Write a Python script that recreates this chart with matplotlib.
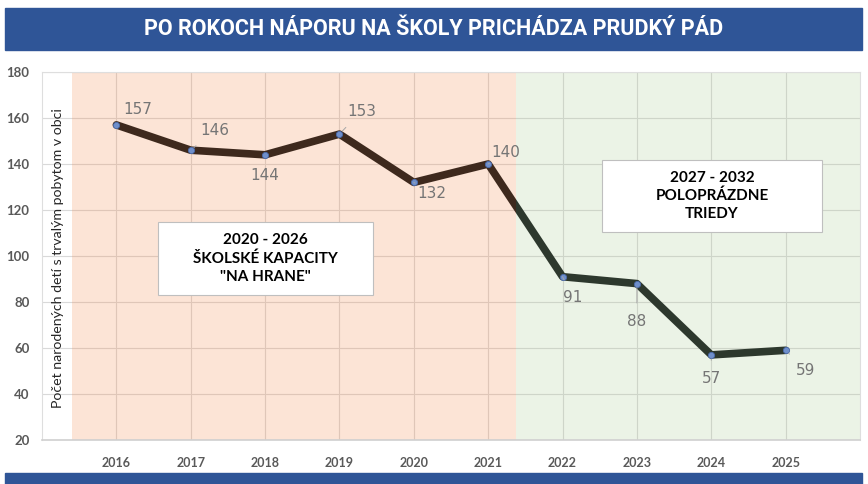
import matplotlib
matplotlib.use("Agg")
import matplotlib.pyplot as plt
from matplotlib.patches import Rectangle

# data
years = [2016, 2017, 2018, 2019, 2020, 2021, 2022, 2023, 2024, 2025]
births = [157, 146, 144, 153, 132, 140, 91, 88, 57, 59]
# label offsets in pixels (dx, dy) and whether a leader line is drawn
label_dx = [21, 24, 0, 22, 18, 18, 10, 0, 0, 20]
label_dy = [15, 20, -21, 23, -11, 11, -21, -38, -24, -20]
leader = [False, True, False, True, True, True, True, True, True, True]

title = "PO ROKOCH NÁPORU NA ŠKOLY PRICHÁDZA PRUDKÝ PÁD"
ylabel = "Počet narodených detí s trvalým pobytom v obci"
box1 = "2020 - 2026\nŠKOLSKÉ KAPACITY\n\"NA HRANE\""
box2 = "2027 - 2032\nPOLOPRÁZDNE\nTRIEDY"
split = 2021.37

W, H = 868, 484
fig = plt.figure(figsize=(W / 100, H / 100), dpi=100)

def fx(px):
    return px / W

def fy(py):
    return 1 - py / H

# header and footer bands
fig.patches.append(Rectangle((fx(5), fy(50)), fx(857), 42 / H, transform=fig.transFigure,
                             color="#2F5597", zorder=0))
fig.patches.append(Rectangle((fx(5), 0), fx(857), 11 / H, transform=fig.transFigure,
                             color="#2F5597", zorder=0))
fig.text(fx(434), fy(29), title, color="white", fontsize=15.5, fontweight="bold",
         family="Roboto", ha="center", va="center")

ax = fig.add_axes([fx(42), fy(440), fx(818), 368 / H])
ax.set_xlim(2015, 2026)
ax.set_ylim(20, 180)
# translucent shading laid over the line, as in the original
ax.axvspan(2015.4, split, color="#F38B4E", alpha=0.23, zorder=2.5, lw=0)
ax.axvspan(split, 2026, color="#AACC94", alpha=0.23, zorder=2.5, lw=0)
ax.set_xticks(years)
ax.set_yticks(range(20, 181, 20))
ax.grid(True, color="#d9d9d9", lw=0.8, zorder=1)
ax.set_axisbelow(True)
for s in ax.spines.values():
    s.set_color("#dedede")
ax.spines["bottom"].set_color("#d0d0d0")
ax.spines["bottom"].set_linewidth(1.2)
ax.tick_params(length=0, colors="#595959")
ax.tick_params(axis="y", pad=9)
ax.tick_params(axis="x", pad=12)
for t in ax.get_yticklabels():
    t.set_fontweight("bold")
    t.set_fontsize(9.5)
    t.set_family("Lato")
for t in ax.get_xticklabels():
    t.set_fontweight("bold")
    t.set_fontsize(9)
    t.set_family("Lato")

ax.plot(years, births, color="#080c0f", lw=5.5, solid_capstyle="round",
        solid_joinstyle="round", zorder=2)
ax.plot(years, births, "o", ms=4.5, mfc="#6F8FCB", mec="#4A6AAA", mew=0.6, zorder=4)

for x, y, dx, dy, ld in zip(years, births, label_dx, label_dy, leader):
    props = dict(arrowstyle="-", color="#a6a6a6", lw=0.7, shrinkA=6, shrinkB=3) if ld else None
    ax.annotate(str(y), (x, y), xytext=(dx, dy), textcoords="offset pixels",
                ha="center", va="center", fontsize=11, color="#757575",
                arrowprops=props, zorder=5)

fig.text(fx(58), fy(258), ylabel, rotation=90, ha="center", va="center",
         fontsize=10.2, color="#262626", family="Lato")

# annotation boxes
for (x0, y0, x1, y1), txt in [((158, 222, 373, 295), box1), ((602, 160, 822, 232), box2)]:
    fig.patches.append(Rectangle((fx(x0), fy(y1)), fx(x1 - x0), (y1 - y0) / H,
                                 transform=fig.transFigure, facecolor="white",
                                 edgecolor="#bfbfbf", lw=0.8, zorder=6))
    t = fig.text(fx((x0 + x1) / 2), fy((y0 + y1) / 2), txt, ha="center", va="center",
                 fontsize=11, fontweight="bold", family="Lato", color="black",
                 linespacing=1.35)
    t.set_zorder(7)

fig.savefig("out.png", dpi=100)
